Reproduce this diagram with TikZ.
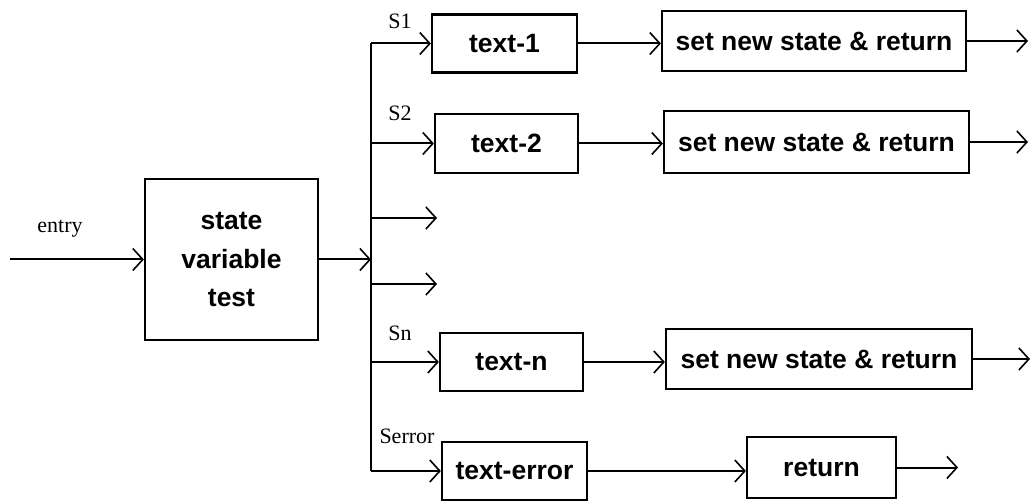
\documentclass[tikz,border=0pt]{standalone}
\usepackage{fontspec}
\setmainfont{Liberation Serif}
\newfontfamily\boxfont{Liberation Sans}
\usetikzlibrary{arrows.meta}
\tikzset{
  box/.style={draw, line width=2.2pt, inner sep=0pt, font=\boxfont\bfseries\fontsize{26.5}{38.5}\selectfont, align=center},
  arr/.style={line width=2pt, -{Straight Barb[length=10pt,width=22pt,line width=1.6pt]}},
  ln/.style={line width=2pt},
  lab/.style={font=\fontsize{22}{24}\selectfont, inner sep=0pt}
}
\begin{document}
\begin{tikzpicture}[x=1pt,y=-1pt]
\useasboundingbox (0,0) rectangle (1031,502);
% boxes
\node[box, minimum width=173pt, minimum height=161pt] (state) at (231.5,259.5) {state\\variable\\test};
\node[box, minimum width=145pt, minimum height=58pt] (t1) at (504.5,43.5) {text-1};
\node[box, minimum width=143pt, minimum height=59pt] (t2) at (506.5,143.5) {text-2};
\node[box, minimum width=143pt, minimum height=58pt] (tn) at (511.5,362) {text-n};
\node[box, minimum width=145pt, minimum height=58pt] (te) at (514.5,471) {text-error};
\node[box, minimum width=304pt, minimum height=60pt] (s1) at (814,41) {set new state \& return};
\node[box, minimum width=305pt, minimum height=62pt] (s2) at (816.5,142) {set new state \& return};
\node[box, minimum width=306pt, minimum height=60pt] (s3) at (819,359) {set new state \& return};
\node[box, minimum width=149pt, minimum height=61pt] (ret) at (821.5,467.5) {return};
% coordinates
\coordinate (in) at (10,259.5);
\coordinate (bustop) at (371,43.5);
\coordinate (busbot) at (371,471);
\coordinate (e1) at (437,218);
\coordinate (e2) at (437,284);
\coordinate (o1) at (1028,41);
\coordinate (o2) at (1028,142);
\coordinate (o3) at (1030,359);
\coordinate (o4) at (958,467.5);
% labels
\node[lab] (lentry) at (60,229) {entry};
\node[lab] (ls1) at (400,21) {S1};
\node[lab] (ls2) at (400,113) {S2};
\node[lab] (lsn) at (400,333) {Sn};
\node[lab] (lse) at (407,436) {Serror};
% connectors
\draw[arr] (in) -- (state.west);
\draw[arr] (state.east) -- (state.east -| bustop);
\draw[ln] (bustop) -- (busbot);
\draw[arr] (bustop) -- (t1.west);
\draw[arr] (t2.west -| bustop) -- (t2.west);
\draw[arr] (e1 -| bustop) -- (e1);
\draw[arr] (e2 -| bustop) -- (e2);
\draw[arr] (tn.west -| bustop) -- (tn.west);
\draw[arr] (busbot) -- (te.west);
\draw[arr] (t1.east) -- (t1.east -| s1.west);
\draw[arr] (t2.east) -- (t2.east -| s2.west);
\draw[arr] (tn.east) -- (tn.east -| s3.west);
\draw[arr] (te.east) -- (te.east -| ret.west);
\draw[arr] (s1.east) -- (o1);
\draw[arr] (s2.east) -- (o2);
\draw[arr] (s3.east) -- (o3);
\draw[arr] (ret.east) -- (o4);
\end{tikzpicture}
\end{document}
